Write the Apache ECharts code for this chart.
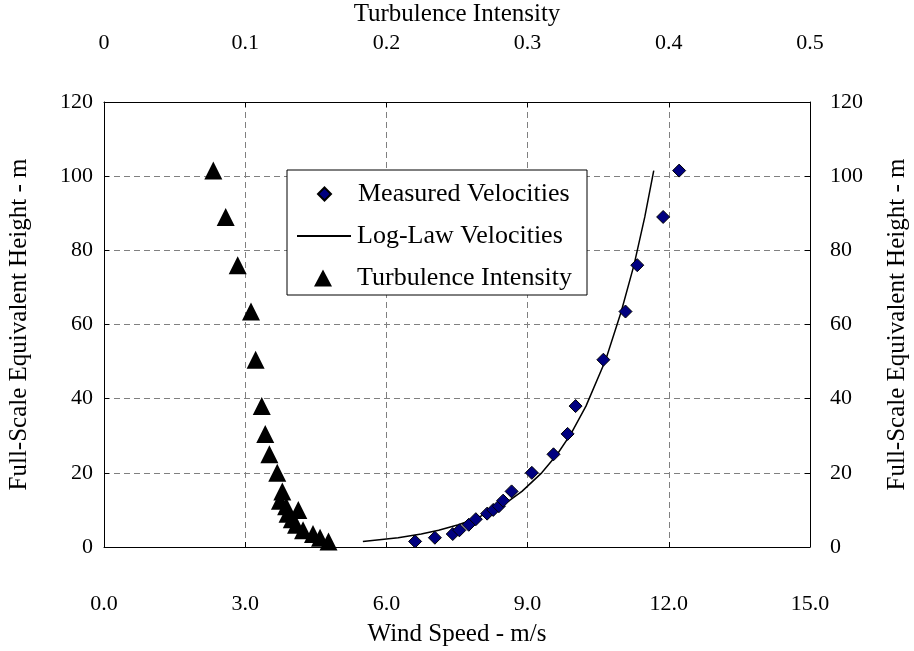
<!DOCTYPE html>
<html>
<head>
<meta charset="utf-8">
<script src="https://cdn.jsdelivr.net/npm/echarts@6/dist/echarts.min.js"></script>
<style>html,body{margin:0;padding:0;background:#fff;}#c{width:914px;height:651px;}</style>
</head>
<body>
<div id="c"></div>
<script>
// Heights (m) at which measurements were taken
const heights = [1.5, 2.5, 3.5, 4.5, 6, 7.5, 9, 10, 11, 12.5, 15, 20, 25, 30.5, 38, 50.5, 63.5, 76, 89, 101.5];
// Measured velocities (m/s)
const measuredVel = [6.61, 7.03, 7.41, 7.55, 7.75, 7.90, 8.14, 8.27, 8.39, 8.48, 8.66, 9.09, 9.55, 9.85, 10.02, 10.61, 11.08, 11.33, 11.88, 12.22];
// Log-law velocities (m/s)
const logLawVel = [5.50, 6.25, 6.74, 7.11, 7.53, 7.86, 8.13, 8.28, 8.42, 8.61, 8.88, 9.30, 9.63, 9.92, 10.24, 10.66, 10.99, 11.26, 11.49, 11.68];
// Turbulence intensity
const turbInt = [0.159, 0.153, 0.148, 0.141, 0.136, 0.133, 0.130, 0.1376, 0.129, 0.1246, 0.1263, 0.1227, 0.1171, 0.1142, 0.1117, 0.1074, 0.1041, 0.0947, 0.0862, 0.0774];

const xTicks = ['0.0', '3.0', '6.0', '9.0', '12.0', '15.0'];
const topTicks = ['0', '0.1', '0.2', '0.3', '0.4', '0.5'];

const FONT = 'Liberation Serif';
const chart = echarts.init(document.getElementById('c'));
const zip = (a, b) => a.map((v, i) => [v, b[i]]);

const axisText = { color: '#000', fontFamily: FONT, fontSize: 22 };
const nameText = { color: '#000', fontFamily: FONT, fontSize: 25 };
const legText = (padLeft) => ({ color: '#000', fontFamily: FONT, fontSize: 26, lineHeight: 26, padding: [0, 0, 0, padLeft] });

chart.setOption({
  animation: false,
  backgroundColor: '#fff',
  grid: { left: 104, right: 104, top: 102, bottom: 104, containLabel: false, outerBoundsMode: 'none' },
  xAxis: [
    {
      type: 'value', position: 'bottom', min: 0, max: 15, interval: 3,
      name: 'Wind Speed - m/s', nameLocation: 'middle', nameGap: 75, nameTextStyle: nameText,
      axisLine: { show: true, onZero: false, lineStyle: { color: '#000', width: 1 } },
      axisTick: { show: true, inside: true, length: 5, lineStyle: { color: '#000' } },
      axisLabel: Object.assign({ margin: 46, formatter: (v) => xTicks[Math.round(v / 3)] }, axisText),
      splitLine: { show: true, lineStyle: { color: '#808080', type: [6, 4], width: 1 } }
    },
    {
      type: 'value', position: 'top', min: 0, max: 0.5, interval: 0.1,
      name: 'Turbulence Intensity', nameLocation: 'middle', nameGap: 72, nameTextStyle: nameText,
      axisLine: { show: true, onZero: false, lineStyle: { color: '#000', width: 1 } },
      axisTick: { show: true, inside: true, length: 5, lineStyle: { color: '#000' } },
      axisLabel: Object.assign({ margin: 48, formatter: (v) => topTicks[Math.round(v * 10)] }, axisText),
      splitLine: { show: false }
    }
  ],
  yAxis: [
    {
      type: 'value', position: 'left', min: 0, max: 120, interval: 20,
      name: 'Full-Scale Equivalent Height - m', nameLocation: 'middle', nameGap: 72, nameTextStyle: nameText,
      axisLine: { show: true, onZero: false, lineStyle: { color: '#000', width: 1 } },
      axisTick: { show: true, inside: true, length: 5, lineStyle: { color: '#000' } },
      axisLabel: Object.assign({ margin: 11 }, axisText),
      splitLine: { show: true, lineStyle: { color: '#808080', type: [6, 4], width: 1 } }
    },
    {
      type: 'value', position: 'right', min: 0, max: 120, interval: 20,
      name: 'Full-Scale Equivalent Height - m', nameLocation: 'middle', nameGap: 75, nameTextStyle: nameText,
      axisLine: { show: true, onZero: false, lineStyle: { color: '#000', width: 1 } },
      axisTick: { show: true, inside: true, length: 5, lineStyle: { color: '#000' } },
      axisLabel: Object.assign({ margin: 20 }, axisText),
      splitLine: { show: false }
    }
  ],
  graphic: [{
    type: 'rect', z: 10, shape: { x: 287, y: 170, width: 300, height: 125 },
    style: { fill: '#fff', stroke: '#000', lineWidth: 1 }
  }],
  legend: [
    { z: 11, data: [{ name: 'Measured Velocities', icon: 'diamond' }], left: 317, top: 181, padding: 0,
      itemWidth: 13, itemHeight: 13, textStyle: legText(22) },
    { z: 11, data: [{ name: 'Log-Law Velocities', icon: 'rect' }], left: 297, top: 223, padding: 0,
      itemWidth: 54, itemHeight: 2, textStyle: legText(1) },
    { z: 11, data: [{ name: 'Turbulence Intensity', icon: 'triangle' }], left: 314, top: 265, padding: 0,
      itemWidth: 18, itemHeight: 17, textStyle: legText(20) }
  ],
  series: [
    {
      name: 'Log-Law Velocities', type: 'line', xAxisIndex: 0, yAxisIndex: 0,
      data: zip(logLawVel, heights), symbol: 'none', showSymbol: false,
      lineStyle: { color: '#000', width: 1.5 }, itemStyle: { color: '#000' }, z: 3
    },
    {
      name: 'Measured Velocities', type: 'scatter', xAxisIndex: 0, yAxisIndex: 0,
      data: zip(measuredVel, heights), symbol: 'diamond', symbolSize: 13,
      itemStyle: { color: '#000080', borderColor: '#000', borderWidth: 1, opacity: 1 }, z: 4
    },
    {
      name: 'Turbulence Intensity', type: 'scatter', xAxisIndex: 1, yAxisIndex: 0,
      data: zip(turbInt, heights), symbol: 'triangle', symbolSize: 18,
      itemStyle: { color: '#000', opacity: 1 }, z: 4
    }
  ]
});
</script>
</body>
</html>
